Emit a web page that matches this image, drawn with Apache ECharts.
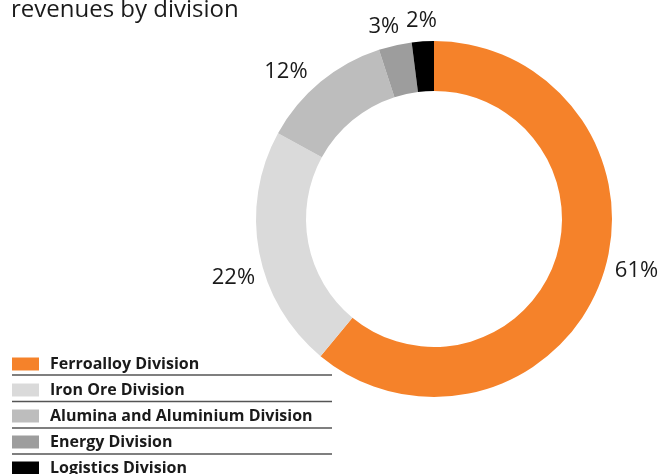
<!DOCTYPE html>
<html>
<head>
<meta charset="utf-8">
<script src="https://cdn.jsdelivr.net/npm/echarts@6/dist/echarts.min.js"></script>
<style>
  html, body { margin: 0; padding: 0; background: #fff; }
  #chart { width: 672px; height: 474px; }
</style>
</head>
<body>
<div id="chart"></div>
<script>
// revenue share by division, %
const divisions = [
  "Ferroalloy Division",
  "Iron Ore Division",
  "Alumina and Aluminium Division",
  "Energy Division",
  "Logistics Division"
];
const shares = [61, 22, 12, 3, 2];
const colors = ["#f5822a", "#dadada", "#bdbdbd", "#9d9d9d", "#000000"];

const CX = 434, CY = 219;

const chart = echarts.init(document.getElementById("chart"));

// separator lines under the legend rows
const ruleY = [375, 401.5, 428, 454];
const rules = ruleY.map(y => ({
  type: "line",
  shape: { x1: 12, y1: y, x2: 332, y2: y },
  style: { stroke: "#555", lineWidth: 1.5 }
}));

// labels sit a bit further out and slightly counter-clockwise, centred
function placeLabel(params) {
  const r = params.labelRect;
  // echarts leaves a small gap between the line end and the text
  const ax = params.align === "left" ? r.x - 5 : r.x + r.width + 5;
  const ay = r.y + r.height / 2;
  let ang = Math.atan2(ay - CY, ax - CX);
  const share = shares[params.dataIndex];
  const shift = share >= 5 ? 5.5 : (share - 2) * 2;
  ang -= shift * Math.PI / 180;
  const rad = share >= 5 ? 209 : 199;
  return {
    x: CX + rad * Math.cos(ang),
    y: CY + rad * Math.sin(ang),
    align: "center",
    verticalAlign: "middle"
  };
}

chart.setOption({
  animation: false,
  color: colors,
  title: {
    text: "revenues by division",
    left: 6,
    top: -7,
    textStyle: {
      fontFamily: "Open Sans",
      fontWeight: "normal",
      fontSize: 24,
      color: "#1a1a1a"
    }
  },
  legend: {
    orient: "vertical",
    left: 12,
    top: 356,
    height: 200,
    padding: 0,
    icon: "rect",
    itemWidth: 27,
    itemHeight: 13,
    itemGap: 10,
    data: divisions,
    textStyle: {
      fontFamily: "Open Sans",
      fontWeight: "bold",
      fontSize: 16,
      lineHeight: 13,
      color: "#1a1a1a",
      padding: [0, 0, 0, 6]
    }
  },
  graphic: rules,
  series: [
    {
      type: "pie",
      center: [CX, CY],
      radius: [128, 178],
      startAngle: 90,
      avoidLabelOverlap: false,
      data: divisions.map((name, i) => ({ name: name, value: shares[i] })),
      label: {
        show: true,
        position: "outside",
        formatter: "{c}%",
        fontFamily: "Open Sans",
        fontSize: 22,
        color: "#1a1a1a"
      },
      labelLine: { show: false, length: 0, length2: 0 },
      labelLayout: placeLabel,
      emphasis: { disabled: true }
    }
  ]
});
</script>
</body>
</html>
